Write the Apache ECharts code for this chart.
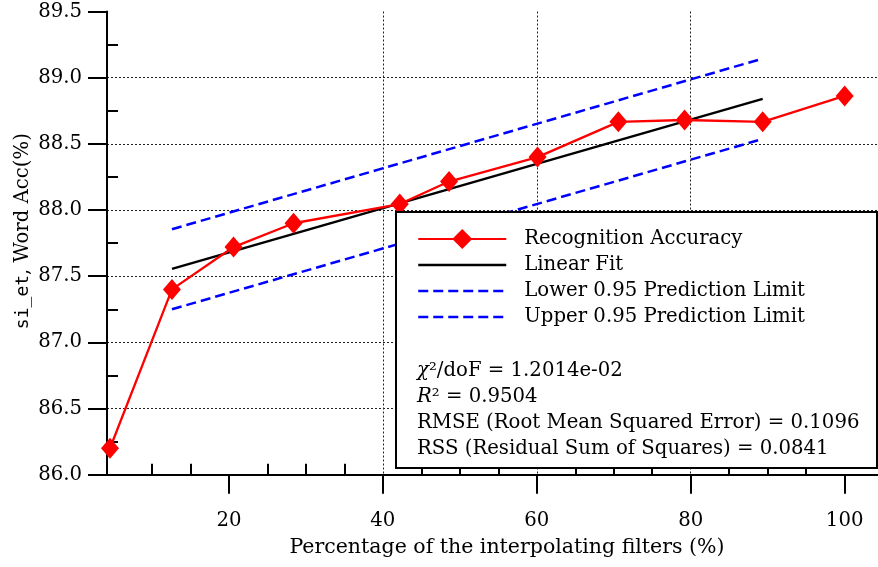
<!DOCTYPE html>
<html>
<head>
<meta charset="utf-8">
<script src="https://cdn.jsdelivr.net/npm/echarts@6/dist/echarts.min.js"></script>
<style>html,body{margin:0;padding:0;background:#fff;}#c{width:878px;height:567px;}</style>
</head>
<body>
<div id="c"></div>
<script>
// ---- data ----
const accX = [4.55, 12.6, 20.6, 28.4, 42.2, 48.6, 60.1, 70.6, 79.2, 89.35, 100];
const accY = [86.20, 87.40, 87.72, 87.90, 88.045, 88.215, 88.40, 88.666, 88.68, 88.666, 88.862];
const fitX = [12.6, 89.35];
const fitY = [87.555, 88.84];
const upperY = [87.855, 89.144];
const lowerY = [87.25, 88.537];
const xMajorTicks = [20, 40, 60, 80, 100];
const xMinorTicks = [10, 15, 25, 30, 35, 45, 50, 55, 65, 70, 75, 85, 90, 95, 105];
const yMinorTicks = [86.25, 86.75, 87.25, 87.75, 88.25, 88.75, 89.25];
const seriesNames = ['Recognition Accuracy', 'Linear Fit', 'Lower 0.95 Prediction Limit', 'Upper 0.95 Prediction Limit'];
const statsLines = [
  '{i|χ}²/doF = 1.2014e-02',
  '{i|R}² = 0.9504',
  'RMSE (Root Mean Squared Error) = 0.1096',
  'RSS (Residual Sum of Squares) = 0.0841'
];

const SERIF = 'DejaVu Serif';
const FS = 19.7;
const zip = (xs, ys) => xs.map((x, i) => [x, ys[i]]);

const chart = echarts.init(document.getElementById('c'), null, {renderer: 'canvas'});
const xMin = 4.16, xMax = 108.1;

const statGraphics = statsLines.map((t, i) => ({
  type: 'text', z: 60, left: 417, top: 373 + i * 25.8 - 12,
  style: {
    text: t, fill: '#000', fontFamily: SERIF, fontSize: FS,
    rich: { i: { fontFamily: SERIF, fontStyle: 'italic', fontSize: FS, fill: '#000' } }
  }
}));

const hidden = { color: 'rgba(0,0,0,0)', borderWidth: 0, opacity: 0 };

chart.setOption({
  animation: false,
  backgroundColor: '#fff',
  grid: { left: 107, top: 11.5, width: 800, bottom: 92.3, containLabel: false, outerBoundsMode: 'none' },
  xAxis: [
    {
      type: 'value', min: xMin, max: xMax, position: 'bottom',
      name: 'Percentage of the interpolating filters (%)',
      nameLocation: 'middle', nameGap: 62, nameMoveOverlap: false,
      nameTextStyle: { fontFamily: SERIF, fontSize: 20.5, color: '#000' },
      axisLine: { show: true, onZero: false, lineStyle: { color: '#000', width: 2 } },
      axisTick: { show: true, customValues: xMajorTicks, length: 19, lineStyle: { color: '#000', width: 2 } },
      axisLabel: { customValues: xMajorTicks, margin: 36, fontFamily: SERIF, fontSize: FS, color: '#000' },
      splitLine: { show: true, showMinLine: false, showMaxLine: false, lineStyle: { color: '#222', width: 1, type: [2, 2] } }
    },
    {
      type: 'value', min: xMin, max: xMax, position: 'bottom', gridIndex: 0,
      axisLine: { show: false },
      axisTick: { show: true, inside: true, customValues: xMinorTicks, length: 11, lineStyle: { color: '#000', width: 2 } },
      axisLabel: { show: false },
      splitLine: { show: false }
    }
  ],
  yAxis: [
    {
      type: 'value', min: 86, max: 89.5, interval: 0.5, position: 'left',
      name: '{m|si_et}, Word Acc(%)',
      nameLocation: 'middle', nameGap: 74, nameMoveOverlap: false,
      nameTextStyle: { fontFamily: SERIF, fontSize: FS, color: '#000', padding: [0, 0, 0, 24],
        rich: { m: { fontFamily: 'DejaVu Sans Mono', fontSize: 18, color: '#000' } } },
      axisLine: { show: true, onZero: false, lineStyle: { color: '#000', width: 2 } },
      axisTick: { show: true, length: 19, lineStyle: { color: '#000', width: 2 } },
      axisLabel: { margin: 25, fontFamily: SERIF, fontSize: FS, color: '#000', formatter: v => v.toFixed(1) },
      splitLine: { show: true, showMinLine: false, showMaxLine: false, lineStyle: { color: '#222', width: 1, type: [2, 2] } }
    },
    {
      type: 'value', min: 86, max: 89.5, position: 'left', gridIndex: 0,
      axisLine: { show: false },
      axisTick: { show: true, inside: true, customValues: yMinorTicks, length: 11, lineStyle: { color: '#000', width: 2 } },
      axisLabel: { show: false },
      splitLine: { show: false }
    }
  ],
  legend: {
    data: [
      { name: seriesNames[0] },
      { name: seriesNames[1], itemStyle: hidden, lineStyle: { color: '#000', width: 2.5 } },
      { name: seriesNames[2], itemStyle: hidden, lineStyle: { color: '#0000ff', width: 2.5, type: [10, 5] } },
      { name: seriesNames[3], itemStyle: hidden, lineStyle: { color: '#0000ff', width: 2.5, type: [10, 5] } }
    ],
    orient: 'vertical', left: 417, top: 229, z: 60,
    itemWidth: 88, itemHeight: 25, itemGap: 6, padding: 0,
    selectedMode: false,
    textStyle: { fontFamily: SERIF, fontSize: FS, color: '#000', padding: [0, 0, 0, 13] }
  },
  graphic: [
    { type: 'rect', z: 50, shape: { x: 396, y: 212, width: 481, height: 256 },
      style: { fill: '#fff', stroke: '#000', lineWidth: 2 } }
  ].concat(statGraphics),
  series: [
    {
      name: seriesNames[1], type: 'line', data: zip(fitX, fitY), showSymbol: false, symbol: 'none',
      lineStyle: { color: '#000', width: 2.5 }, itemStyle: { color: '#000' }, z: 3
    },
    {
      name: seriesNames[2], type: 'line', data: zip(fitX, lowerY), showSymbol: false, symbol: 'none',
      lineStyle: { color: '#0000ff', width: 2.5, type: [10, 5] }, itemStyle: { color: '#0000ff' }, z: 3
    },
    {
      name: seriesNames[3], type: 'line', data: zip(fitX, upperY), showSymbol: false, symbol: 'none',
      lineStyle: { color: '#0000ff', width: 2.5, type: [10, 5] }, itemStyle: { color: '#0000ff' }, z: 3
    },
    {
      name: seriesNames[0], type: 'line', data: zip(accX, accY),
      symbol: 'diamond', symbolSize: [18, 21], clip: true,
      lineStyle: { color: '#ff0000', width: 2.3 }, itemStyle: { color: '#ff0000' }, z: 4
    }
  ]
});
</script>
</body>
</html>
